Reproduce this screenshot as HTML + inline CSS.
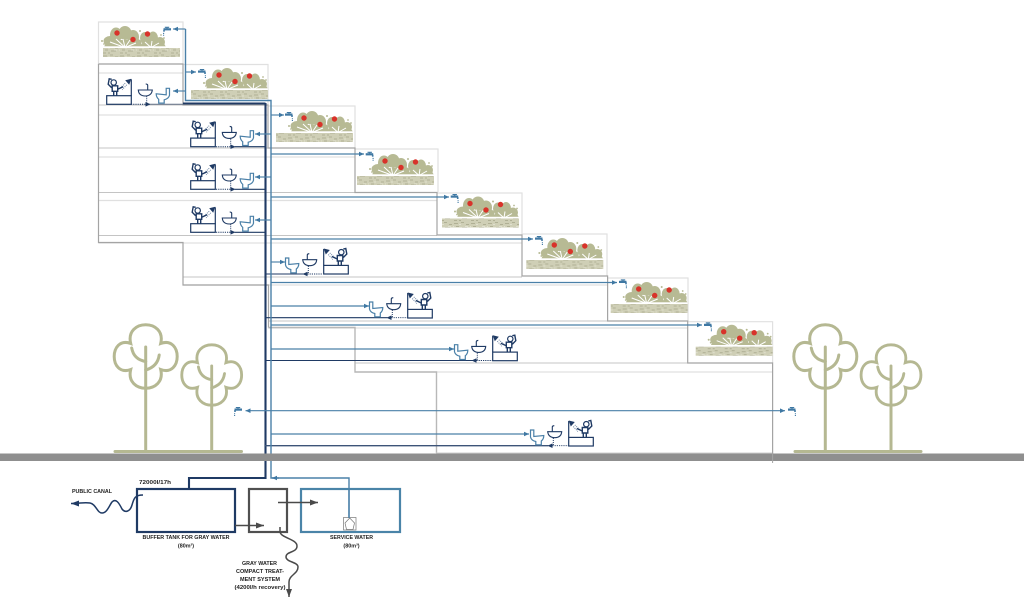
<!DOCTYPE html>
<html><head><meta charset="utf-8"><style>
html,body{margin:0;padding:0;background:#fff}
svg{display:block;filter:blur(.35px)}
text{font-family:"Liberation Sans",sans-serif;fill:#222;font-weight:bold;font-size:5.4px;text-anchor:middle}
</style></head><body>
<svg width="1024" height="602" viewBox="0 0 1024 602" xmlns="http://www.w3.org/2000/svg">
<defs>
<marker id="b" markerUnits="userSpaceOnUse" markerWidth="7" markerHeight="6" refX="5" refY="2.5" orient="auto"><path d="M0,0.2L5,2.5L0,4.8Z" fill="#3f78a3"/></marker>
<marker id="bs" markerUnits="userSpaceOnUse" markerWidth="7" markerHeight="6" refX="0" refY="2.5" orient="auto"><path d="M5,0.2L0,2.5L5,4.8Z" fill="#3f78a3"/></marker>
<marker id="d" markerUnits="userSpaceOnUse" markerWidth="7" markerHeight="6" refX="5" refY="2.5" orient="auto"><path d="M0,0.2L5,2.5L0,4.8Z" fill="#1f3a64"/></marker>
<marker id="g" markerUnits="userSpaceOnUse" markerWidth="9" markerHeight="8" refX="8" refY="3" orient="auto"><path d="M0,0L8,3L0,6Z" fill="#4a4a4a"/></marker>
<marker id="n" markerUnits="userSpaceOnUse" markerWidth="9" markerHeight="8" refX="8" refY="3" orient="auto"><path d="M0,0L8,3L0,6Z" fill="#1f3a64"/></marker>
<pattern id="soil" width="17" height="9" patternUnits="userSpaceOnUse">
<rect width="17" height="9" fill="#cfcfb6"/>
<path d="M1,2h4M8,1h3M13,3h3M3,5h3M9,6h5M1,8h3M6,8h2" stroke="#b0b095" stroke-width="1" fill="none"/>
<path d="M6,3h2M12,5h3M0,5h1" stroke="#e0e0cf" stroke-width="1" fill="none"/>
</pattern>
<g id="plant">
<g fill="#b7ba94">
<ellipse cx="-7" cy="8" rx="6.5" ry="5"/><ellipse cx="-1" cy="2" rx="6" ry="7.5"/><ellipse cx="8" cy="0" rx="6.5" ry="7"/><ellipse cx="16" cy="4" rx="6" ry="7"/><ellipse cx="20" cy="10" rx="4.5" ry="4"/>
<ellipse cx="28" cy="5" rx="5" ry="6"/><ellipse cx="36" cy="5" rx="5" ry="6.5"/><ellipse cx="43" cy="9" rx="5" ry="5"/>
<path d="M-13,14L-10,7L22,7L26,14ZM23,14L27,7L45,7L49,14Z"/>
<circle cx="-15" cy="8" r="1"/><circle cx="-13" cy="11" r=".9"/><circle cx="23" cy="-2" r="1"/><circle cx="44" cy="2" r=".9"/><circle cx="47" cy="5" r=".9"/>
</g>
<path d="M8,14.5L-7,9M8,14.5L-1,6M8,14.5L6,6M8,14.5L13,7M8,14.5L19,10M34,14.5L28,9M34,14.5L35,8M34,14.5L42,10" stroke="#fff" stroke-width="1" fill="none"/>
<rect x="-14" y="13.3" width="63" height="1.4" fill="#fff"/>
<circle cx="0" cy="0" r="2.7" fill="#d8332a"/><circle cx="16" cy="6.5" r="2.7" fill="#d8332a"/><circle cx="30.5" cy="1" r="2.7" fill="#d8332a"/>
</g>
<g id="tap" fill="none" stroke="#3f78a3">
<path d="M0,2.6H7.5" stroke-width="2.2"/><path d="M4,0.6V2M1.8,.6H6.2" stroke-width="1.1"/><path d="M7,3V5" stroke-width="1.6"/><path d="M7.4,6.2v1.1M7.4,8v1" stroke-width="1.1"/>
</g>
<g id="fix" fill="none" stroke="#1f3a64">
<rect x="0" y="-8.6" width="24.6" height="8.6" fill="#fff" stroke-width="1.2"/>
<path d="M24.6,-8.6V-25" stroke-width="1.2"/>
<path d="M24.6,-25.5L18.5,-24L22.5,-19.5Z" fill="#1f3a64" stroke="none"/>
<path d="M18.5,-21L13,-16M20,-19.5L15.5,-14.5" stroke="#6f86a4" stroke-width="1" stroke-dasharray="1 1"/>
<circle cx="7" cy="-21.8" r="2.7" stroke-width="1.2"/>
<path d="M5,-16.5L1.5,-20L2.5,-25.5L5,-25M5.5,-18.5H11V-13H5.5ZM11,-15L16.5,-17.5M7,-13V-8.6M10,-13V-8.6" stroke-width="1.4"/>
<path d="M31.6,-14.3H45.6Q45,-8.5 38.5,-8.3Q32,-8.5 31.6,-14.3Z" fill="#fff" stroke-width="1.1"/>
<path d="M41,-14.3V-19Q41,-20.3 39,-20.3" stroke-width="1.1"/>
<path d="M40,-8V0" stroke-width="1" stroke-dasharray="1 1"/>
<path d="M59.5,-16H62.8V-9Q62,-5.5 57.5,-4.5V-1.2H52V-5Q49.5,-7 49.5,-10.5L59.5,-9.5Z" stroke="#4a80a8" stroke-width="1.2" fill="#fff"/>
</g>
<g id="tree" fill="none" stroke="#b5b892" stroke-width="3" stroke-linecap="round">
<path d="M-15,-13C-21,-38 21,-38 15,-13C37,-21 37,21 15,13C21,38 -21,38 -15,13C-37,21 -37,-21 -15,-13Z"/>
<path d="M-14,-8.5Q-12,3 0,5M13.5,-1.5Q12,10 0,13.5"/>
<path d="M0,-9.5V31"/>
</g>
<g id="soilg"><rect x="-28" y="15" width="77" height="9" fill="url(#soil)"/></g>
</defs>

<!-- light floor lines -->
<g fill="none" stroke="#e0e0e0" stroke-width="1.2">
<path d="M98.5,73H183M98.5,115H268M98.5,157H355M98.5,200.5H437M98.5,243H522M183,285H607M268,328H688M355,372H772"/>
<rect x="98.5" y="22" width="84.5" height="42"/>
<path d="M183,64.5H268V105M268,106H355V148M355,149H438V192M437,193H522V235M522,234H607V276M607.5,278H688V321M688,321.7H772.6V363"/>
</g>
<g fill="none" stroke="#c4c4c4" stroke-width="1.1">
<path d="M98.5,105H183M98.5,148H268M98.5,192.5H355M98.5,235.5H437M183,277H522M268,321H607M355,363H688M436,453H772"/>
</g>
<!-- stair outlines -->
<g fill="none" stroke="#a4a4a4" stroke-width="1.2">
<path d="M98.5,64H183V105H268V148H355V192.5H437V235H522V276H607.6V321H687.7V363H772.6V460"/>
<path d="M98.5,64V242.5H183V285H268.5V327.5"/>
<path d="M268.5,327.5H355V372H436.5V453" stroke="#b8b8b8" stroke-width="1.4"/>
</g>

<!-- gardens -->
<g>
<rect x="103" y="48" width="77" height="9" fill="url(#soil)"/><use href="#plant" x="117" y="33"/>
<use href="#soilg" x="219" y="75"/><use href="#plant" x="219" y="75"/>
<use href="#soilg" x="304" y="118"/><use href="#plant" x="304" y="118"/>
<use href="#soilg" x="385" y="161"/><use href="#plant" x="385" y="161"/>
<use href="#soilg" x="470" y="203.5"/><use href="#plant" x="470" y="203.5"/>
<use href="#soilg" x="554.3" y="245"/><use href="#plant" x="554.3" y="245"/>
<use href="#soilg" x="638.7" y="289"/><use href="#plant" x="638.7" y="289"/>
<use href="#soilg" x="723.7" y="331.7"/><use href="#plant" x="723.7" y="331.7"/>
</g>

<!-- taps -->
<use href="#tap" transform="translate(171,26.7) scale(-1,1)"/>
<use href="#tap" x="198" y="69"/><use href="#tap" x="285" y="112"/><use href="#tap" x="365.7" y="151.7"/>
<use href="#tap" x="450.7" y="194"/><use href="#tap" x="535" y="236"/><use href="#tap" x="619" y="279.3"/><use href="#tap" x="704" y="322.3"/>
<use href="#tap" x="788" y="407"/><use href="#tap" transform="translate(242,407) scale(-1,1)"/>

<!-- gray verticals next to risers -->
<path d="M268,105V148M268.5,285V327" stroke="#a8a8a8" stroke-width="1" fill="none"/>

<!-- dark drains -->
<g fill="none" stroke="#1f3a64" stroke-width="1.1">
<path d="M183,103.5H265.5M265.5,103V478H189V489" stroke-width="2.1"/>
<path d="M131,104.3H150" stroke-dasharray="1.2 1" stroke-width="1"/>
<path d="M216,146.7H235" stroke-dasharray="1.2 1" stroke-width="1"/>
<path d="M216,189.3H235" stroke-dasharray="1.2 1" stroke-width="1"/>
<path d="M216,232.3H235" stroke-dasharray="1.2 1" stroke-width="1"/>
<path d="M140,104.3H150.5" marker-end="url(#d)" stroke="none"/>
<path d="M225,146.7H235.5" marker-end="url(#d)" stroke="none"/>
<path d="M225,189.3H235.5" marker-end="url(#d)" stroke="none"/>
<path d="M225,232.3H235.5" marker-end="url(#d)" stroke="none"/>
<path d="M235,146.7H265M235,189.3H265M235,232.3H265"/>
<path d="M150,104.3H183" stroke="#66748a" stroke-width="1"/>
<path d="M265,274H303M265,317.7H387M265,360.5H472"/>
<path d="M265,445.7H548" stroke-width="1.4" stroke="#3d5478"/>
<path d="M310,274H302.5" marker-end="url(#d)" stroke="none"/>
<path d="M394,317.7H386.5" marker-end="url(#d)" stroke="none"/>
<path d="M479,360.5H471.5" marker-end="url(#d)" stroke="none"/>
<path d="M555,445.7H547.5" marker-end="url(#d)" stroke="none"/>
<path d="M303,274H322.7M387,317.7H407.3M472,360.5H492.3M548,445.7H568.3" stroke-width=".9" stroke-dasharray="1.2 1"/>
</g>

<!-- blue supply -->
<g fill="none" stroke="#4a80a8" stroke-width="1.15">
<path d="M185.5,29V100.5H271V478H349V518" stroke-width="1.4"/>
<path d="M185.5,29H173" marker-end="url(#b)"/>
<path d="M185,72H196" marker-end="url(#b)"/>
<path d="M271,115H284" marker-end="url(#b)"/>
<path d="M271,154H364" marker-end="url(#b)"/>
<path d="M271,197H449" marker-end="url(#b)"/>
<path d="M271,239H533" marker-end="url(#b)"/>
<path d="M271,282.5H617" marker-end="url(#b)"/>
<path d="M271,325H702" marker-end="url(#b)"/>
<path d="M271,262H285" marker-end="url(#b)"/>
<path d="M271,306H369" marker-end="url(#b)"/>
<path d="M271,349H454" marker-end="url(#b)"/>
<path d="M271,434H529" marker-end="url(#b)"/>
<path d="M185,91H173" marker-end="url(#b)"/>
<path d="M271,134H255" marker-end="url(#b)"/>
<path d="M271,177H255" marker-end="url(#b)"/>
<path d="M271,220H255" marker-end="url(#b)"/>
<path d="M245.5,410.7H785" marker-start="url(#bs)" marker-end="url(#b)"/>
<path d="M279,478H272" stroke-width="1.4" marker-end="url(#b)"/>
</g>

<!-- fixtures -->
<use href="#fix" x="106.7" y="104.3"/>
<use href="#fix" x="190.7" y="146.7"/>
<use href="#fix" x="190.7" y="189.3"/>
<use href="#fix" x="190.7" y="232.3"/>
<use href="#fix" transform="translate(348.3,274) scale(-1,1)"/>
<use href="#fix" transform="translate(432.3,318) scale(-1,1)"/>
<use href="#fix" transform="translate(517.3,360.7) scale(-1,1)"/>
<use href="#fix" transform="translate(593.3,446) scale(-1,1)"/>

<!-- ground -->
<rect x="0" y="453.5" width="1024" height="7.5" fill="#8f8f8f"/>
<path d="M436,453H772" stroke="#cfcfcf" stroke-width="1"/>
<path d="M772.6,453V463" stroke="#a4a4a4" stroke-width="1"/>

<!-- trees -->
<use href="#tree" x="145.7" y="356.5"/>
<path d="M145.7,387V451" stroke="#b5b892" stroke-width="3"/>
<g transform="translate(211.7,375) scale(.95)"><use href="#tree"/></g>
<path d="M211.7,404V451" stroke="#b5b892" stroke-width="3"/>
<use href="#tree" x="825.3" y="356.5"/>
<path d="M825.3,387V451" stroke="#b5b892" stroke-width="3"/>
<g transform="translate(891,375) scale(.95)"><use href="#tree"/></g>
<path d="M891,404V451" stroke="#b5b892" stroke-width="3"/>
<path d="M115,451.5H241.5M795,451.5H921" stroke="#b5b892" stroke-width="3" stroke-linecap="round"/>

<!-- tanks -->
<rect x="137" y="489" width="98" height="43" fill="none" stroke="#1f3a64" stroke-width="2.2"/>
<rect x="249" y="489" width="38" height="43" fill="none" stroke="#505050" stroke-width="2.2"/>
<rect x="301" y="489" width="99" height="43" fill="none" stroke="#4a84a8" stroke-width="2.2"/>
<rect x="343.5" y="517.5" width="12.5" height="12.5" fill="#fff" stroke="#777" stroke-width=".7"/>
<path d="M349.7,518L345,523L346.5,529.5H353L354.5,523Z" fill="none" stroke="#777" stroke-width=".7"/>
<path d="M349,489V518" stroke="#4a80a8" stroke-width="1.4"/>
<path d="M235,525.5H264" stroke="#4a4a4a" stroke-width="1.5" marker-end="url(#g)"/>
<path d="M278,502.5H318" stroke="#4a4a4a" stroke-width="1.5" marker-end="url(#g)"/>
<path d="M143,495C135,495 134,498 132,505C130,512 125,513 122,509C119,503 116,498 112,502C109,506 107,513 102,513C97,513 96,504 90,503C84,502 80,503.5 71,503.5" fill="none" stroke="#1f3a64" stroke-width="1.5" marker-end="url(#n)"/>
<path d="M280,527V532C281,538 297,539 297,546C297,553 286,551 286,557C286,562 298,562 298,567C298,574 289,575 289,582V597" fill="none" stroke="#4a4a4a" stroke-width="1.5" marker-end="url(#g)"/>

<!-- labels -->
<text x="92" y="493" textLength="40" lengthAdjust="spacingAndGlyphs">PUBLIC CANAL</text>
<text x="155" y="484" textLength="32" lengthAdjust="spacingAndGlyphs">72000l/17h</text>
<text x="186" y="539" textLength="87" lengthAdjust="spacingAndGlyphs">BUFFER TANK FOR GRAY WATER</text>
<text x="186" y="547.5">(80m³)</text>
<text x="351.5" y="539" textLength="43" lengthAdjust="spacingAndGlyphs">SERVICE WATER</text>
<text x="351.5" y="547.5">(80m³)</text>
<text x="259.5" y="565" textLength="35" lengthAdjust="spacingAndGlyphs">GRAY WATER</text>
<text x="260" y="573" textLength="48" lengthAdjust="spacingAndGlyphs">COMPACT TREAT-</text>
<text x="260" y="581" textLength="40" lengthAdjust="spacingAndGlyphs">MENT SYSTEM</text>
<text x="260" y="589" textLength="51" lengthAdjust="spacingAndGlyphs">(4200l/h recovery)</text>
</svg>
</body></html>
